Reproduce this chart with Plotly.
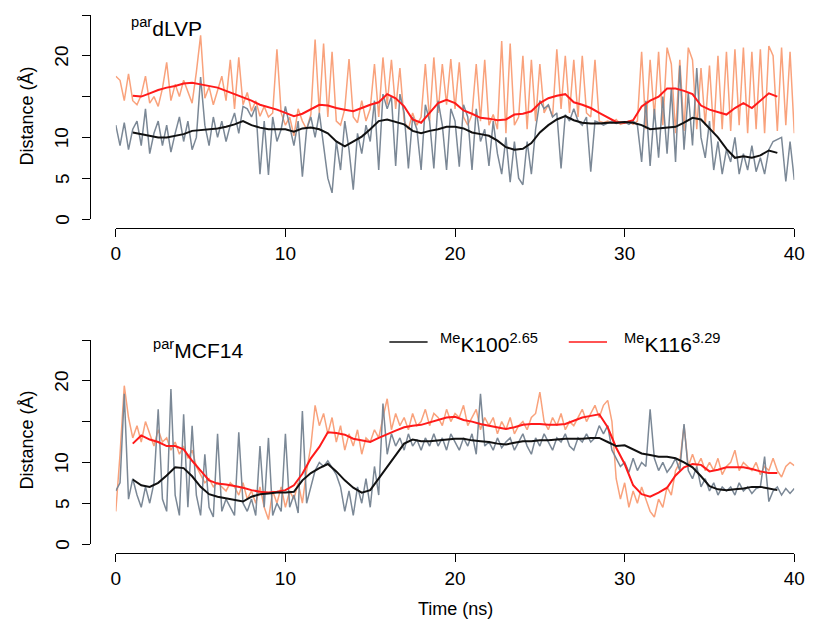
import numpy as np
import plotly.graph_objects as go

# ---------------- data ----------------
# raw series, sampled every 0.25 ns from 0 to 40 ns
dlvp_k116_raw = [17.5, 17.0, 14.5, 17.8, 14.5, 14.0, 15.2, 17.5, 14.2, 15.0, 13.8, 16.0,
                 19.2, 14.5, 16.5, 15.0, 17.0, 15.5, 14.2, 18.0, 22.5, 14.8, 16.2, 14.0,
                 15.8, 17.5, 14.5, 19.5, 13.5, 19.8, 14.0, 15.5, 13.2, 14.5, 12.6, 13.8,
                 12.5, 13.0, 20.8, 13.0, 11.5, 12.5, 10.2, 13.5, 12.0, 11.0, 12.8, 22.0,
                 13.0, 21.5, 12.5, 20.5, 12.0, 11.5, 13.5, 19.6, 12.5, 11.8, 14.5, 12.0,
                 13.5, 19.0, 12.5, 19.8, 14.0, 19.5, 13.5, 18.5, 12.0, 11.0, 13.0, 11.5,
                 12.5, 19.0, 12.0, 19.8, 13.0, 19.0, 14.0, 19.6, 13.5, 19.2, 12.5, 11.5,
                 12.8, 19.0, 12.0, 19.5, 11.5, 12.8, 11.0, 21.8, 10.5, 21.5, 11.5, 12.5,
                 20.0, 11.0, 19.5, 12.0, 19.0, 13.0, 14.0, 12.5, 20.8, 13.5, 20.0, 13.0,
                 19.5, 12.5, 20.0, 13.0, 12.5, 19.5, 12.0, 11.8, 12.0, 11.8, 12.2, 11.6,
                 11.8, 12.0, 11.6, 12.0, 20.5, 11.0, 19.5, 12.5, 20.5, 11.5, 21.0, 19.0,
                 10.5, 19.5, 10.8, 21.0, 19.5, 11.0, 18.5, 11.5, 18.8, 10.5, 20.0, 11.0,
                 20.5, 10.8, 20.8, 11.5, 21.0, 10.5, 20.5, 11.0, 20.8, 10.5, 21.2, 20.0,
                 10.8, 21.0, 11.5, 20.5, 10.5]
dlvp_k100_raw = [11.5, 9.0, 11.8, 8.5, 11.0, 12.0, 9.0, 13.5, 8.0, 10.5, 12.0, 9.0,
                 11.5, 8.2, 10.5, 12.5, 9.5, 12.0, 8.5, 10.0, 17.4, 11.5, 9.0, 12.5,
                 10.0, 12.0, 9.5, 11.5, 13.0, 10.5, 13.8, 13.5, 12.5, 13.8, 5.5, 12.0,
                 5.4, 12.5, 9.5, 11.0, 13.8, 11.5, 9.0, 12.0, 5.2, 11.0, 12.5, 10.0,
                 13.0, 9.0, 5.0, 3.2, 9.5, 6.0, 12.0, 8.5, 3.6, 10.5, 8.0, 11.5,
                 9.5, 14.5, 6.0, 15.3, 13.5, 15.0, 6.5, 15.3, 13.0, 6.2, 12.5, 11.0,
                 6.0, 14.0, 12.0, 6.2, 14.5, 11.5, 6.0, 13.5, 12.0, 6.4, 14.0, 12.5,
                 6.0, 13.5, 9.5, 11.0, 6.5, 12.0, 8.0, 5.5, 10.0, 4.5, 9.5, 5.0,
                 4.2, 9.5, 5.5, 11.0, 14.5, 13.5, 14.0, 12.5, 13.0, 6.2, 12.8, 12.0,
                 13.5, 12.0, 11.5, 12.5, 5.8, 12.0, 11.8, 11.5, 11.8, 12.0, 11.7, 11.8,
                 11.9, 11.6, 12.0, 11.5, 7.0, 14.5, 6.5, 13.5, 7.5, 15.0, 8.0, 16.0,
                 7.0, 18.8, 8.5, 15.5, 9.0, 18.5, 10.0, 7.5, 12.0, 6.0, 9.5, 5.5,
                 8.5, 7.0, 10.0, 5.5, 8.0, 6.0, 9.0, 5.8, 7.5, 5.5, 8.5, 9.5,
                 9.8, 10.0, 4.6, 9.5, 4.8]
mcf_k116_raw = [4.0, 11.0, 19.4, 15.5, 13.0, 14.5, 12.5, 15.0, 13.5, 12.0, 14.0, 12.5,
                13.0, 11.5, 12.5, 11.0, 12.0, 10.5, 11.5, 9.5, 8.5, 7.5, 8.0, 7.0,
                7.5, 7.0, 6.5, 7.5, 7.0, 6.0, 7.5, 5.5, 6.5, 5.0, 7.0, 4.5,
                3.0, 6.5, 5.0, 7.0, 4.5, 6.5, 5.5, 7.5, 5.0, 9.0, 12.0, 17.0,
                14.5, 16.0, 13.5, 15.5, 12.5, 14.5, 11.5, 13.5, 12.0, 14.0, 11.0, 13.0,
                12.5, 14.0, 13.0, 15.5, 17.8, 14.0, 16.0, 14.5, 15.5, 14.0, 16.0, 14.5,
                15.0, 16.5, 14.5, 16.0, 15.5, 14.5, 16.5, 15.0, 16.0, 15.5, 17.0, 14.5,
                15.5, 16.5, 14.0, 15.5, 14.5, 15.5, 13.5, 15.0, 14.0, 15.5, 13.5, 14.5,
                15.0, 14.0, 15.5, 16.0, 18.6, 15.0, 14.0, 15.5, 14.5, 16.0, 14.0, 15.0,
                14.5, 15.5, 16.5, 15.0, 16.0, 17.0, 15.5, 17.0, 17.6, 15.0, 8.0, 5.5,
                7.5, 4.5, 6.5, 5.0, 7.0, 5.5, 4.0, 3.3, 5.5, 4.5, 7.0, 6.0,
                9.0, 10.0, 14.5, 9.5, 11.0, 9.5, 10.5, 9.0, 10.0, 9.0, 10.5, 8.5,
                9.5, 10.0, 11.5, 9.0, 10.0, 9.5, 9.0, 10.0, 8.5, 9.5, 9.0, 10.5,
                9.0, 8.2, 9.5, 10.0, 9.6]
mcf_k100_raw = [6.5, 7.5, 18.4, 5.5, 8.0, 6.0, 4.5, 7.0, 5.0, 7.5, 16.5, 5.5,
                4.0, 19.0, 6.0, 3.5, 15.9, 4.5, 14.5, 6.0, 3.5, 11.0, 4.5, 3.3,
                13.5, 4.0, 5.5, 4.5, 3.5, 13.7, 5.0, 4.0, 5.5, 3.5, 12.0, 4.5,
                13.0, 3.5, 5.0, 4.0, 13.5, 4.5, 6.0, 3.8, 16.3, 5.0, 7.0, 9.0,
                10.0, 9.5, 10.2, 9.4, 8.5, 7.0, 4.0, 6.5, 3.5, 7.0, 5.0, 8.0,
                4.5, 9.5, 6.0, 17.2, 11.0, 13.5, 12.0, 13.0, 11.5, 13.5, 12.0, 12.8,
                11.5, 13.0, 12.0, 13.5, 12.0, 13.0, 11.5, 13.5, 12.5, 11.5, 13.0, 12.0,
                13.5, 11.0, 18.4, 12.0, 12.5, 11.5, 13.0, 11.8, 12.5, 13.0, 11.5, 12.5,
                13.5, 12.0, 11.0, 13.0, 12.0, 13.5, 12.5, 11.5, 13.0, 12.5, 13.5, 12.0,
                11.5, 13.0, 12.5, 13.5, 12.5, 13.0, 14.5, 13.5, 14.5, 11.5, 10.5, 9.5,
                10.0, 8.8, 10.5, 9.0, 10.0, 9.5, 16.5, 10.5, 9.0, 10.0, 8.8, 9.5,
                10.5, 9.0, 14.7, 9.0, 8.0, 9.5, 7.0, 8.0, 6.5, 7.5, 6.0, 7.0,
                6.5, 7.0, 6.0, 7.5, 6.5, 7.0, 6.2, 6.8, 7.0, 10.7, 5.2, 6.5,
                7.0, 6.0, 6.8, 6.2, 6.8]

# running-average series, every 0.5 ns from 1 to 39 ns
dlvp_k116_avg = [15.1, 15.0, 15.4, 15.8, 16.1, 16.3, 16.6, 16.7, 16.5, 16.3, 16.1, 15.7,
                 15.3, 14.9, 14.5, 14.0, 13.7, 13.4, 13.0, 12.6, 12.9, 13.4, 14.0, 13.9,
                 13.6, 13.4, 13.2, 13.6, 14.0, 14.3, 15.3, 14.8, 13.8, 12.2, 11.8, 13.0,
                 14.2, 14.6, 14.2, 13.3, 12.9, 12.4, 12.3, 12.1, 12.2, 12.8, 12.9, 13.2,
                 14.2, 14.8, 15.1, 15.3, 14.3, 14.0, 13.6, 13.0, 12.4, 11.9, 11.8, 12.1,
                 13.8, 14.5, 15.0, 16.0, 16.0, 15.7, 15.3, 13.9, 13.4, 13.1, 12.8, 13.6,
                 14.2, 13.6, 14.5, 15.4, 15.0]
dlvp_k100_avg = [10.6, 10.4, 10.2, 10.0, 10.0, 10.2, 10.4, 10.8, 10.9, 11.0, 11.1, 11.3,
                 11.6, 12.0, 11.5, 11.2, 11.0, 11.0, 11.0, 10.7, 11.1, 11.2, 11.0, 10.5,
                 9.5, 8.9, 9.5, 10.1, 11.0, 12.0, 12.2, 11.9, 11.6, 10.8, 10.5, 10.8,
                 11.0, 11.3, 11.3, 11.1, 10.6, 10.4, 10.2, 9.6, 8.8, 8.5, 8.6, 9.3,
                 10.6, 11.5, 12.2, 12.6, 12.1, 11.8, 11.7, 11.7, 11.8, 11.8, 11.9, 11.8,
                 11.5, 11.0, 11.1, 11.2, 11.3, 11.8, 12.4, 12.2, 11.1, 10.0, 8.6, 7.5,
                 7.7, 7.5, 7.8, 8.4, 8.1]
mcf_k116_avg = [12.3, 13.3, 12.8, 12.5, 12.0, 12.0, 11.6, 10.2, 9.0, 7.8, 7.4, 7.3,
                7.1, 6.9, 6.6, 6.4, 6.3, 6.4, 6.6, 7.2, 8.6, 10.5, 11.9, 13.7,
                13.6, 13.4, 12.9, 12.7, 12.5, 13.0, 13.5, 13.9, 14.3, 14.5, 14.6, 14.9,
                15.2, 15.5, 15.6, 15.2, 15.0, 14.7, 14.5, 14.3, 14.1, 14.3, 14.6, 14.7,
                14.7, 14.6, 14.6, 14.7, 15.1, 15.5, 15.7, 15.9, 14.3, 11.8, 9.8, 7.2,
                6.1, 5.8, 6.3, 6.9, 8.4, 9.4, 9.8, 9.7, 8.9, 9.1, 9.4, 9.4,
                9.4, 9.2, 8.9, 8.7, 8.7]
mcf_k100_avg = [7.9, 7.2, 7.0, 7.5, 8.4, 9.4, 9.3, 8.3, 7.0, 6.1, 5.8, 5.6,
                5.4, 5.2, 5.8, 6.1, 6.2, 6.3, 6.3, 6.4, 7.8, 8.7, 9.3, 9.8,
                8.9, 7.8, 6.9, 6.3, 6.6, 8.0, 9.4, 10.8, 12.3, 12.8, 12.6, 12.6,
                12.7, 12.8, 12.9, 12.9, 12.7, 12.6, 12.5, 12.3, 12.2, 12.4, 12.6, 12.6,
                12.7, 12.7, 12.8, 12.9, 12.9, 12.9, 13.0, 13.0, 12.5, 12.0, 12.1, 11.6,
                11.1, 10.9, 10.7, 10.7, 10.5, 10.0, 9.4, 8.3, 7.1, 6.7, 6.6, 6.7,
                6.8, 7.0, 7.0, 6.8, 6.6]

x_ticks = [0, 10, 20, 30, 40]
y_ticks = [0, 5, 10, 15, 20, 25]
y_ticklabels = [0, 5, 10, 20]
panel_names = ["<sup>par</sup>dLVP", "<sup>par</sup>MCF14"]
legend_names = ["<sup>Me</sup>K100<sup>2.65</sup>", "<sup>Me</sup>K116<sup>3.29</sup>"]

# ---------------- figure ----------------
W, H = 820, 630
FONT = "Liberation Sans, Arial, Helvetica, sans-serif"
SLATE = "#7b8896"
SALMON = "#f9a27c"
RED = "#ff1a1a"
BLACK = "#111111"


def px_x(p):
    return p / W


def px_y(p):
    return 1 - p / H


t_raw = np.linspace(0, 40, len(dlvp_k100_raw))

fig = go.Figure()
panels = [
    (dlvp_k100_raw, dlvp_k116_raw, dlvp_k100_avg, dlvp_k116_avg, "x", "y"),
    (mcf_k100_raw, mcf_k116_raw, mcf_k100_avg, mcf_k116_avg, "x2", "y2"),
]
for rb, rr, ab, ar, xa, ya in panels:
    fig.add_trace(go.Scatter(x=t_raw, y=rr, mode="lines", line=dict(color=SALMON, width=1.5),
                             xaxis=xa, yaxis=ya, showlegend=False))
    fig.add_trace(go.Scatter(x=t_raw, y=rb, mode="lines", line=dict(color=SLATE, width=1.5),
                             xaxis=xa, yaxis=ya, showlegend=False))
    fig.add_trace(go.Scatter(x=np.linspace(1, 39, len(ar)), y=ar, mode="lines",
                             line=dict(color=RED, width=2), xaxis=xa, yaxis=ya, showlegend=False))
    fig.add_trace(go.Scatter(x=np.linspace(1, 39, len(ab)), y=ab, mode="lines",
                             line=dict(color=BLACK, width=2), xaxis=xa, yaxis=ya, showlegend=False))

xdom = [px_x(113), px_x(805)]
axis_common = dict(showgrid=False, zeroline=False, showline=True, linecolor="black", linewidth=1.3,
                   ticks="outside", ticklen=8, tickwidth=1.3, tickcolor="black",
                   tickfont=dict(family=FONT, size=19, color="black"))

fig.update_layout(
    width=W, height=H, autosize=False, margin=dict(l=0, r=0, t=0, b=0),
    paper_bgcolor="white", plot_bgcolor="white", showlegend=False,
    xaxis=dict(domain=xdom, range=[0, 40], tickvals=x_ticks, anchor="free",
               position=px_y(228), **axis_common),
    yaxis=dict(domain=[px_y(219), px_y(15)], range=[0, 25], tickvals=y_ticks,
               showticklabels=False, anchor="free", position=px_x(87), **axis_common),
    xaxis2=dict(domain=xdom, range=[0, 40], tickvals=x_ticks, anchor="free",
                position=px_y(553), **axis_common),
    yaxis2=dict(domain=[px_y(544), px_y(340)], range=[0, 25], tickvals=y_ticks,
                showticklabels=False, anchor="free", position=px_x(87), **axis_common),
)


def note(text, x, y, size, yref="paper", angle=0, xanchor="center"):
    return dict(text=text, x=px_x(x), xref="paper", y=y, yref=yref, textangle=angle,
                xanchor=xanchor, yanchor="middle", showarrow=False,
                font=dict(family=FONT, size=size, color="black"))


ann = []
# rotated y tick labels (R style)
for ya in ["y", "y2"]:
    for v in y_ticklabels:
        ann.append(note(str(v), 58, v, 19, yref=ya, angle=-90))
for yc in [116, 440]:
    ann.append(note("Distance (Å)", 22, px_y(yc), 18, angle=-90))
ann.append(note("Time (ns)", 459, px_y(609), 18))
ann.append(note(panel_names[0], 126, px_y(27), 21, xanchor="left"))
ann.append(note(panel_names[1], 149, px_y(349), 21, xanchor="left"))
ann.append(note(legend_names[0], 442, px_y(343), 21, xanchor="left"))
ann.append(note(legend_names[1], 629, px_y(343), 21, xanchor="left"))
fig.update_layout(annotations=ann)

fig.add_shape(type="line", xref="paper", yref="paper", x0=px_x(392), x1=px_x(431),
              y0=px_y(342), y1=px_y(342), line=dict(color=BLACK, width=1.5))
fig.add_shape(type="line", xref="paper", yref="paper", x0=px_x(575), x1=px_x(614),
              y0=px_y(342), y1=px_y(342), line=dict(color=RED, width=1.5))

# remove the default page margin so the 820x630 figure fills the window exactly
fig.write_html("out.html",
               config={"displayModeBar": False, "responsive": False},
               post_script="document.body.style.margin='0px';document.body.style.overflow='hidden';")
